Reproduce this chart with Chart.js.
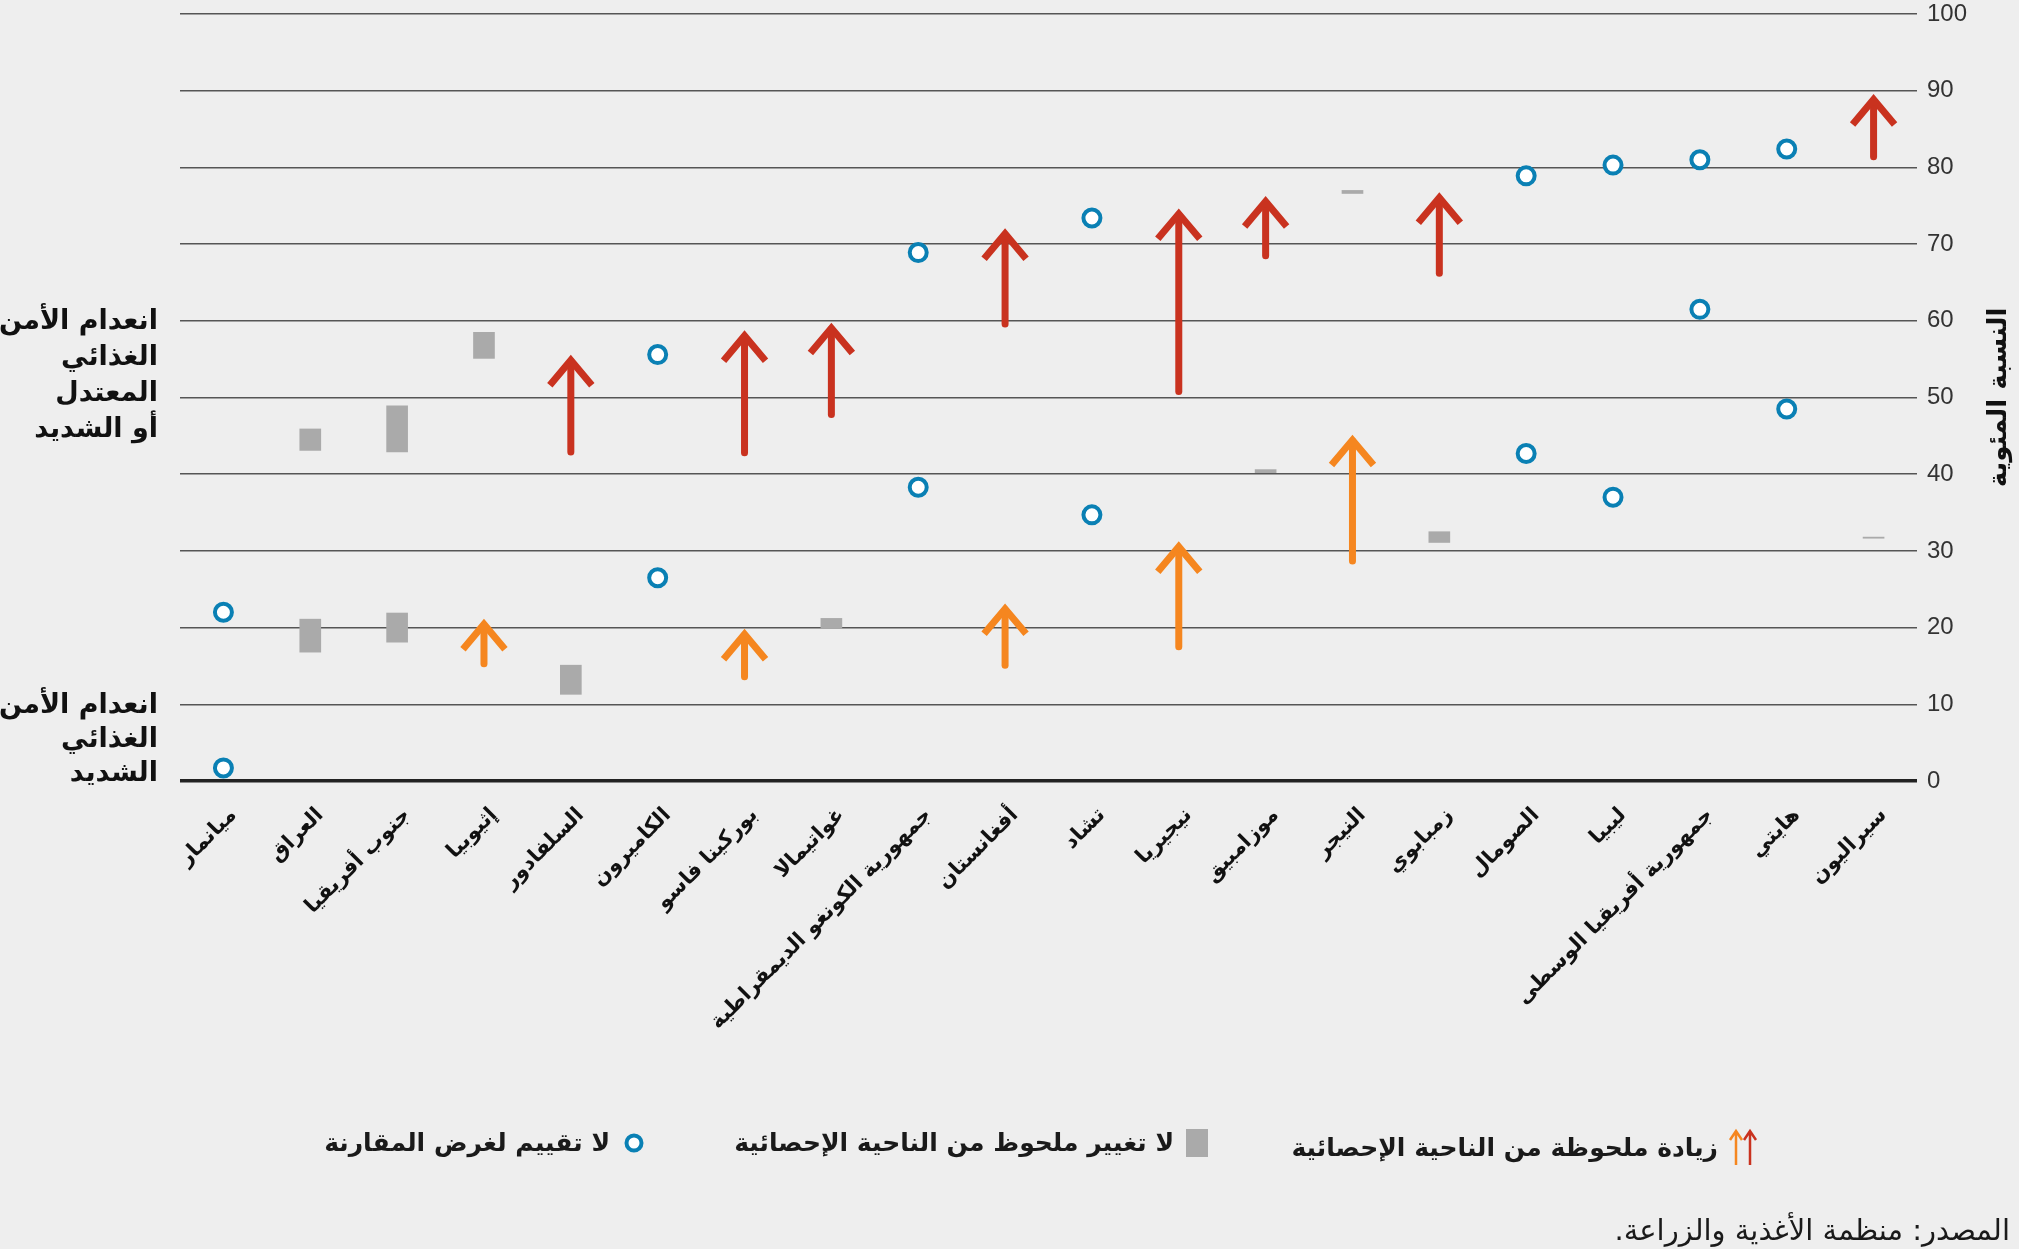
<!DOCTYPE html>
<html lang="ar">
<head>
<meta charset="utf-8">
<title>انعدام الأمن الغذائي</title>
<script src="https://cdn.jsdelivr.net/npm/chart.js@4.4.0/dist/chart.umd.min.js"></script>
<style>
    html, body { margin: 0; padding: 0; background: #eeeeee; }
    #wrap { position: relative; width: 2019px; height: 1249px; overflow: hidden; }
    #chart { position: absolute; left: 0; top: 0; }
    .leg { position: absolute; top: 1128px; display: flex; align-items: center; direction: rtl;
           font: bold 25px "DejaVu Sans", sans-serif; color: #1a1a1a; white-space: nowrap; }
    .leg svg { display: block; }
    #source { position: absolute; right: 9px; top: 1213px; direction: rtl;
              font: 29px "DejaVu Sans", sans-serif; color: #1a1a1a; white-space: nowrap; }
</style>
</head>
<body>
<div id="wrap">
    <canvas id="chart" width="2019" height="1249"></canvas>

    <div class="leg" style="right:259px">
        <svg width="36" height="38" viewBox="0 0 36 38">
            <path d="M26 37 V4 M20 12 L26 3 L32 12" stroke="#c9321f" stroke-width="2.5" fill="none"/>
            <path d="M12 37 V4 M6 12 L12 3 L18 12" stroke="#f5861f" stroke-width="2.5" fill="none"/>
        </svg>
        <span style="margin-right:6px">زيادة ملحوظة من الناحية الإحصائية</span>
    </div>
    <div class="leg" style="right:811px">
        <svg width="22" height="28" viewBox="0 0 22 28"><rect width="22" height="28" fill="#aaaaaa"/></svg>
        <span style="margin-right:12px">لا تغيير ملحوظ من الناحية الإحصائية</span>
    </div>
    <div class="leg" style="right:1375px">
        <svg width="20" height="20" viewBox="0 0 20 20"><circle cx="10" cy="10" r="7.5" stroke="#0a80b4" stroke-width="4" fill="#ffffff"/></svg>
        <span style="margin-right:14px">لا تقييم لغرض المقارنة</span>
    </div>
    <div id="source">المصدر: منظمة الأغذية والزراعة.</div>
</div>

<script>
// countries, left to right
var countries = ["ميانمار", "العراق", "جنوب أفريقيا", "إثيوبيا", "السلفادور", "الكاميرون",
    "بوركينا فاسو", "غواتيمالا", "جمهورية الكونغو الديمقراطية", "أفغانستان", "تشاد", "نيجيريا",
    "موزامبيق", "النيجر", "زمبابوي", "الصومال", "ليبيا", "جمهورية أفريقيا الوسطى", "هايتي", "سيراليون"];

// significant increase: [from, to] (percent)
var increaseModerate = [null, null, null, null, [42.5, 55.5], null, [42.4, 58.7], [47.4, 59.7], null, [59.2, 72.0],
    null, [50.4, 74.6], [68.1, 76.2], null, [65.8, 76.7], null, null, null, null, [81.0, 89.5]];
var increaseSevere = [null, null, null, [14.9, 21.1], null, null, [13.2, 19.8], null, null, [14.7, 23.1],
    null, [17.1, 31.2], null, [28.3, 45.1], null, null, null, null, null, null];

// no significant change: [low, high]
var noChangeModerate = [null, [43.1, 45.9], [42.9, 48.9], [55.1, 58.5], null, null, null, null, null, null,
    null, null, null, [76.6, 77.0], null, null, null, null, null, null];
var noChangeSevere = [null, [16.8, 21.1], [18.1, 21.9], null, [11.3, 15.1], null, null, [19.9, 21.2], null, null,
    null, null, [40.2, 40.6], null, [31.1, 32.5], null, null, null, null, [31.65, 31.8]];

// not assessed for comparison
var notComparableModerate = [22.0, null, null, null, null, 55.6, null, null, 68.9, null,
    73.4, null, null, null, null, 78.9, 80.3, 81.0, 82.4, null];
var notComparableSevere = [1.7, null, null, null, null, 26.5, null, null, 38.3, null,
    34.7, null, null, null, null, 42.7, 37.0, 61.5, 48.5, null];

var yMin = 0, yMax = 100, yStep = 10;

var RED = "#c9321f", ORANGE = "#f5861f", GREY = "#aaaaaa", BLUE = "#0a80b4";

// draws the arrows on top of the (invisible) floating bars
var arrowPlugin = {
    id: "arrows",
    afterDatasetsDraw: function (chart) {
        var ctx = chart.ctx;
        chart.data.datasets.forEach(function (ds, i) {
            if (!ds.arrowColor) return;
            var meta = chart.getDatasetMeta(i);
            meta.data.forEach(function (bar, j) {
                if (ds.data[j] == null) return;
                var p = bar.getProps(["x", "y", "base"], true);
                ctx.save();
                ctx.strokeStyle = ds.arrowColor;
                ctx.lineWidth = 7;
                ctx.lineCap = "round";
                ctx.beginPath();
                ctx.moveTo(p.x, p.base - 3);
                ctx.lineTo(p.x, p.y + 6);
                ctx.stroke();
                ctx.lineCap = "butt";
                ctx.lineJoin = "miter";
                ctx.beginPath();
                ctx.moveTo(p.x - 21, p.y + 30);
                ctx.lineTo(p.x, p.y + 5);
                ctx.lineTo(p.x + 21, p.y + 30);
                ctx.stroke();
                ctx.restore();
            });
        });
    }
};

// side labels and the axis title
var textPlugin = {
    id: "sideText",
    afterDraw: function (chart) {
        var ctx = chart.ctx;
        var y = chart.scales.y;
        ctx.save();
        ctx.fillStyle = "#111";
        ctx.font = "bold 27px 'DejaVu Sans'";
        ctx.textAlign = "right";
        ctx.textBaseline = "middle";
        var top1 = y.getPixelForValue(60);
        ["انعدام الأمن", "الغذائي", "المعتدل", "أو الشديد"].forEach(function (t, k) {
            ctx.fillText(t, 158, top1 + 1 + k * 36);
        });
        var top2 = y.getPixelForValue(10);
        ["انعدام الأمن", "الغذائي", "الشديد"].forEach(function (t, k) {
            ctx.fillText(t, 158, top2 + 2 + k * 34);
        });
        ctx.translate(1999, y.getPixelForValue(50));
        ctx.rotate(-Math.PI / 2);
        ctx.textAlign = "center";
        ctx.font = "bold 26px 'DejaVu Sans'";
        ctx.fillText("النسبة المئوية", 0, 0);
        ctx.restore();
    }
};

var canvas = document.getElementById("chart");
var myChart = new Chart(canvas, {
    type: "bar",
    data: {
        labels: countries,
        datasets: [
            { type: "line", data: notComparableModerate, showLine: false, pointStyle: "circle",
              pointRadius: 8.5, pointBorderWidth: 4, pointBorderColor: BLUE, pointBackgroundColor: "#ffffff", order: 0 },
            { type: "line", data: notComparableSevere, showLine: false, pointStyle: "circle",
              pointRadius: 8.5, pointBorderWidth: 4, pointBorderColor: BLUE, pointBackgroundColor: "#ffffff", order: 0 },
            { data: noChangeModerate, backgroundColor: GREY, barThickness: 21, grouped: false, order: 2 },
            { data: noChangeSevere, backgroundColor: GREY, barThickness: 21, grouped: false, order: 2 },
            { data: increaseModerate, backgroundColor: "rgba(0,0,0,0)", barThickness: 7, grouped: false,
              arrowColor: RED, order: 1 },
            { data: increaseSevere, backgroundColor: "rgba(0,0,0,0)", barThickness: 7, grouped: false,
              arrowColor: ORANGE, order: 1 }
        ]
    },
    options: {
        responsive: false,
        animation: false,
        devicePixelRatio: 1,
        layout: { padding: { left: 180, right: 51, top: 0, bottom: 0 } },
        plugins: {
            legend: { display: false },
            tooltip: { enabled: false }
        },
        scales: {
            x: {
                grid: { display: false },
                border: { display: false },
                ticks: {
                    autoSkip: false,
                    maxRotation: 45,
                    minRotation: 45,
                    padding: 14,
                    labelOffset: 10,
                    color: "#111",
                    font: { family: "DejaVu Sans", weight: "bold", size: 21 }
                },
                afterFit: function (scale) { scale.height = 1249 - 781; }
            },
            y: {
                position: "right",
                min: yMin,
                max: yMax,
                border: { display: false },
                grid: {
                    drawTicks: false,
                    color: function (c) { return c.tick && c.tick.value === 0 ? "#222" : "#555"; },
                    lineWidth: function (c) { return c.tick && c.tick.value === 0 ? 3.5 : 1.5; }
                },
                ticks: {
                    stepSize: yStep,
                    padding: 10,
                    color: "#333",
                    font: { family: "Liberation Sans", size: 24 }
                },
                afterFit: function (scale) {
                    scale.width = 51;
                    scale.paddingTop = 14;
                }
            }
        }
    },
    plugins: [arrowPlugin, textPlugin]
});
</script>
</body>
</html>
